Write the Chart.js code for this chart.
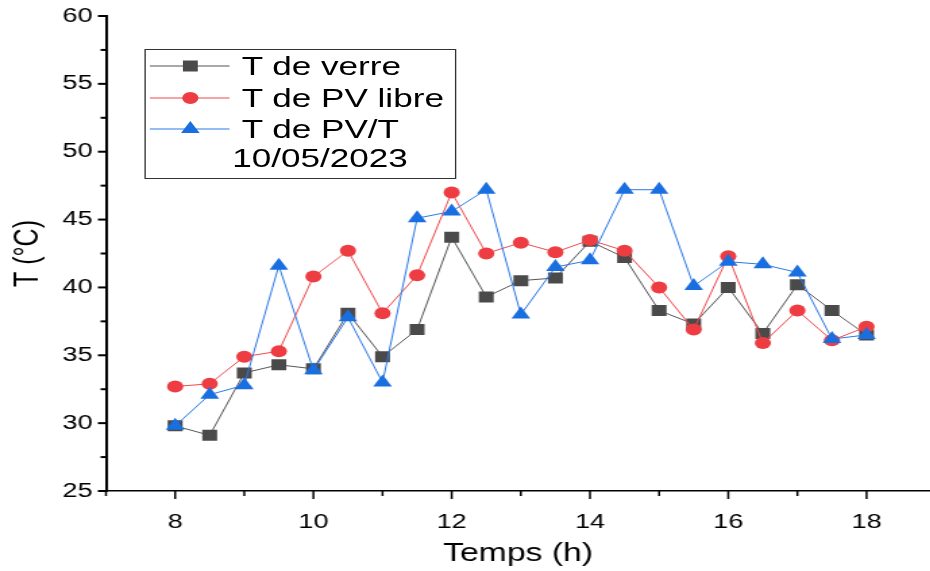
<!DOCTYPE html>
<html><head><meta charset="utf-8">
<script src="https://cdn.jsdelivr.net/npm/chart.js@4/dist/chart.umd.min.js"></script>
<style>
html,body{margin:0;padding:0;background:#fff;overflow:hidden;width:930px;height:571px;}
#wrap{position:absolute;left:0;top:0;width:697px;height:571px;transform:scaleX(1.35);transform-origin:0 0;}
#c{position:absolute;left:0;top:0;width:697px;height:571px;}
#legbox{position:absolute;left:107px;top:49px;width:229px;height:128px;border:1px solid #333;}
#legsvg{position:absolute;left:0;top:0;width:689px;height:200px;pointer-events:none;}
.lt{position:absolute;font-family:"Liberation Sans",Arial,sans-serif;font-size:26px;line-height:30px;height:30px;color:#000;white-space:nowrap;}
</style>
</head><body>
<div id="wrap">
<canvas id="c" width="697" height="571"></canvas>
<div id="legbox"></div>
<svg id="legsvg" width="689" height="200" viewBox="0 0 689 200"></svg>
<div id="legtext"></div>
</div>
<script>
const hours = [8,8.5,9,9.5,10,10.5,11,11.5,12,12.5,13,13.5,14,14.5,15,15.5,16,16.5,17,17.5,18];
const tVerre   = [29.8,29.1,33.7,34.3,34.0,38.1,34.9,36.9,43.7,39.3,40.5,40.7,43.4,42.2,38.3,37.3,40.0,36.6,40.2,38.3,36.5];
const tPvLibre = [32.7,32.9,34.9,35.3,40.8,42.7,38.1,40.9,47.0,42.5,43.3,42.6,43.5,42.7,40.0,36.9,42.3,35.9,38.3,36.1,37.1];
const tPvt     = [29.8,32.1,32.8,41.6,33.9,37.8,33.0,45.1,45.6,47.2,38.0,41.5,42.0,47.2,47.2,40.1,41.9,41.7,41.1,36.2,36.5];
const seriesNames = ['T de verre','T de PV libre','T de PV/T'];
const dateLabel = '10/05/2023';
const xTitle = 'Temps (h)';
const yTitle = 'T (\u00B0C)';
const xTickValues = [8,10,12,14,16,18];
const xMinorValues = [7,9,11,13,15,17];
const yTickValues = [25,30,35,40,45,50,55,60];
const yMinorValues = [27.5,32.5,37.5,42.5,47.5,52.5,57.5];

const FONT = '"Liberation Sans", Arial, sans-serif';
const styles = [
  {line:'#555555', point:'#4a4a4a', pointStyle:'rect', r:7.8, order:3},
  {line:'#f0484d', point:'#ee3d42', pointStyle:'circle', r:6, order:2},
  {line:'#2a78e6', point:'#1a6fe0', pointStyle:'triangle', r:8, order:1}
];
const seriesVals = [tVerre, tPvLibre, tPvt];

const datasets = seriesVals.map((vals,i)=>({
  label: seriesNames[i],
  data: hours.map((h,j)=>({x:h,y:vals[j]})),
  borderColor: styles[i].line,
  borderWidth: 1,
  backgroundColor: styles[i].point,
  pointBackgroundColor: styles[i].point,
  pointBorderWidth: 0,
  pointStyle: styles[i].pointStyle,
  pointRadius: styles[i].r,
  tension: 0,
  order: styles[i].order
}));

const tickMarks = {
  id:'tickMarks',
  afterDraw(chart){
    const ctx = chart.ctx, xs = chart.scales.x, ys = chart.scales.y;
    ctx.save();
    ctx.strokeStyle = '#000';
    const seg=(a,b,c,d)=>{ctx.beginPath();ctx.moveTo(a,b);ctx.lineTo(c,d);ctx.stroke();};
    ctx.lineWidth = 1.5;
    const yb = xs.top;
    xTickValues.forEach(v=>{const p=xs.getPixelForValue(v); seg(p,yb,p,yb+8);});
    xMinorValues.forEach(v=>{const p=xs.getPixelForValue(v); seg(p,yb,p,yb+5);});
    ctx.lineWidth = 2;
    const xa = ys.right;
    yTickValues.forEach(v=>{const p=ys.getPixelForValue(v); seg(xa-6,p,xa,p);});
    yMinorValues.forEach(v=>{const p=ys.getPixelForValue(v); seg(xa-4,p,xa,p);});
    ctx.restore();
  }
};
const noPad = s=>{s.paddingTop=0;s.paddingBottom=0;s.paddingLeft=0;s.paddingRight=0;};

new Chart(document.getElementById('c'), {
  type:'line',
  data:{datasets},
  plugins:[tickMarks],
  options:{
    responsive:false, animation:false, devicePixelRatio:1,
    layout:{padding:{top:16,right:0,left:0,bottom:0}},
    plugins:{legend:{display:false}, tooltip:{enabled:false}},
    scales:{
      x:{type:'linear', min:7, max:18.92,
        afterBuildTicks:s=>{s.ticks = xTickValues.map(v=>({value:v}));},
        afterFit:s=>{s.height = 80; noPad(s);},
        grid:{display:true, drawOnChartArea:false, drawTicks:false},
        border:{display:true, color:'#000', width:1.5},
        ticks:{padding:19, color:'#000', font:{family:FONT, size:20}, maxRotation:0, autoSkip:false, callback:v=>String(v)},
        title:{display:true, text:xTitle, color:'#000', font:{family:FONT, size:25}, padding:{top:0,bottom:2}}
      },
      y:{type:'linear', min:25, max:60,
        afterBuildTicks:s=>{s.ticks = yTickValues.map(v=>({value:v}));},
        afterFit:s=>{s.width = 78.5; noPad(s);},
        grid:{display:true, drawOnChartArea:false, drawTicks:false},
        border:{display:true, color:'#000', width:2},
        ticks:{padding:10, color:'#000', font:{family:FONT, size:20}, autoSkip:false, callback:v=>String(v)},
        title:{display:true, text:yTitle, color:'#000', font:{family:FONT, size:25}, padding:{top:6,bottom:0}}
      }
    }
  }
});

// legend
const rowsY = [66, 98, 129];
const svg = document.getElementById('legsvg');
const NS = 'http://www.w3.org/2000/svg';
const mk = (tag, attrs)=>{const e=document.createElementNS(NS,tag); for(const k in attrs) e.setAttribute(k, attrs[k]); svg.appendChild(e); return e;};
rowsY.forEach((y,i)=>{
  mk('line',{x1:111,y1:y,x2:170,y2:y,stroke:styles[i].line,'stroke-width':1});
  const cx = 141;
  if (i===0) mk('rect',{x:cx-5.5,y:y-5.5,width:11,height:11,fill:styles[i].point});
  else if (i===1) mk('circle',{cx:cx,cy:y,r:6,fill:styles[i].point});
  else mk('polygon',{points:`${cx},${y-8} ${cx+6.9},${y+4} ${cx-6.9},${y+4}`,fill:styles[i].point});
});
const lt = document.getElementById('legtext');
seriesNames.forEach((n,i)=>{
  const d=document.createElement('div'); d.className='lt'; d.textContent=n;
  d.style.left='179px'; d.style.top=(rowsY[i]-15)+'px'; lt.appendChild(d);
});
const dd=document.createElement('div'); dd.className='lt'; dd.textContent=dateLabel;
dd.style.left='172px'; dd.style.top=(158-15)+'px'; lt.appendChild(dd);
</script>
</body></html>
